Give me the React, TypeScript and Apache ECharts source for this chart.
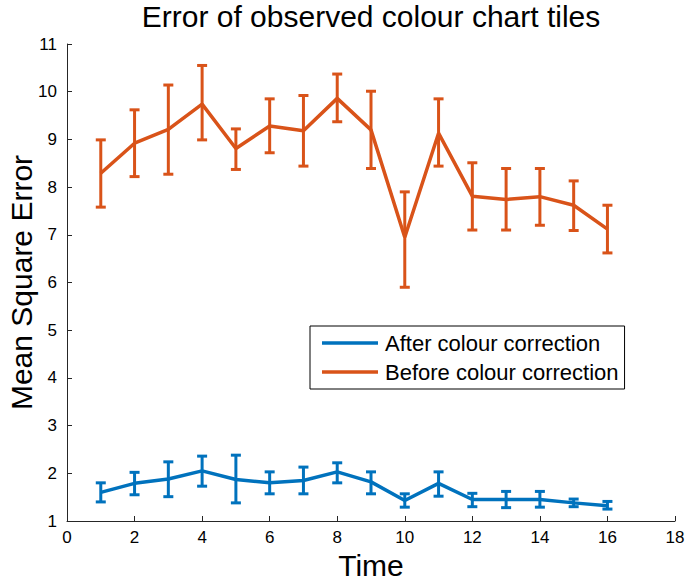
import React, { useEffect, useRef } from "react";
import * as echarts from "echarts";

const times = [1, 2, 3, 4, 5, 6, 7, 8, 9, 10, 11, 12, 13, 14, 15, 16];

const afterMean = [1.6, 1.79, 1.88, 2.05, 1.87, 1.8, 1.85, 2.03, 1.82, 1.43, 1.79, 1.45, 1.45, 1.45, 1.38, 1.32];
const afterHigh = [1.8, 2.02, 2.24, 2.36, 2.38, 2.03, 2.13, 2.22, 2.03, 1.57, 2.03, 1.58, 1.62, 1.62, 1.46, 1.41];
const afterLow = [1.4, 1.55, 1.51, 1.73, 1.38, 1.57, 1.57, 1.8, 1.57, 1.29, 1.52, 1.3, 1.28, 1.29, 1.3, 1.25];

const beforeMean = [8.29, 8.92, 9.21, 9.74, 8.81, 9.28, 9.18, 9.86, 9.2, 6.95, 9.13, 7.81, 7.74, 7.8, 7.62, 7.12];
const beforeHigh = [8.99, 9.62, 10.14, 10.55, 9.22, 9.85, 9.92, 10.37, 10.01, 7.9, 9.85, 8.51, 8.39, 8.39, 8.13, 7.62];
const beforeLow = [7.58, 8.22, 8.27, 8.99, 8.37, 8.72, 8.44, 9.37, 8.39, 5.9, 8.44, 7.1, 7.1, 7.2, 7.09, 6.62];

const xTicks = [0, 2, 4, 6, 8, 10, 12, 14, 16, 18];
const yTicks = [1, 2, 3, 4, 5, 6, 7, 8, 9, 10, 11];

const BLUE = "#0072BD";
const ORANGE = "#D95319";
const FONT = "Liberation Sans, Arial, sans-serif";

function errorSeries(name: string, color: string, low: number[], high: number[]) {
  return {
    type: "custom",
    name: name + " err",
    data: times.map((t, i) => [t, low[i], high[i]]),
    encode: { x: 0, y: [1, 2] },
    z: 3,
    renderItem: (params: any, api: any) => {
      const x = api.value(0);
      const lo = api.coord([x, api.value(1)]);
      const hi = api.coord([x, api.value(2)]);
      const half = 5;
      const style = { stroke: color, lineWidth: 3, fill: "none" };
      return {
        type: "group",
        children: [
          { type: "line", shape: { x1: lo[0], y1: lo[1], x2: hi[0], y2: hi[1] }, style },
          { type: "line", shape: { x1: hi[0] - half, y1: hi[1], x2: hi[0] + half, y2: hi[1] }, style },
          { type: "line", shape: { x1: lo[0] - half, y1: lo[1], x2: lo[0] + half, y2: lo[1] }, style },
        ],
      };
    },
  };
}

export default function App() {
  const ref = useRef<HTMLDivElement>(null);
  useEffect(() => {
    if (!ref.current) return;
    const chart = echarts.init(ref.current, null, { renderer: "svg" });
    chart.setOption({
      animation: false,
      backgroundColor: "#ffffff",
      title: {
        text: "Error of observed colour chart tiles",
        left: 371,
        top: 1,
        padding: 0,
        textAlign: "center",
        textStyle: { fontFamily: FONT, fontSize: 30, fontWeight: "normal", color: "#000" },
      },
      legend: {
        data: ["After colour correction", "Before colour correction"],
        orient: "vertical",
        left: 310,
        top: 326,
        icon: "rect",
        itemWidth: 56,
        itemHeight: 3.5,
        itemGap: 7,
        padding: [6, 6, 6, 12],
        borderColor: "#000",
        borderWidth: 1,
        backgroundColor: "#fff",
        textStyle: { fontFamily: FONT, fontSize: 22, color: "#000", padding: [0, 0, 0, 2] },
      },
      grid: { left: 67, right: 10, top: 44, bottom: 60, containLabel: false, outerBoundsMode: "none" },
      xAxis: {
        type: "value",
        min: 0,
        max: 18,
        interval: 2,
        name: "Time",
        nameLocation: "middle",
        nameGap: 23,
        nameTextStyle: { fontFamily: FONT, fontSize: 30, color: "#000" },
        axisLine: { show: true, lineStyle: { color: "#262626", width: 1 } },
        axisTick: { show: true, inside: true, length: 5, lineStyle: { color: "#262626" } },
        axisLabel: { fontFamily: FONT, fontSize: 17, color: "#000", margin: 8 },
        splitLine: { show: false },
      },
      yAxis: {
        type: "value",
        min: 1,
        max: 11,
        interval: 1,
        name: "Mean Square Error",
        nameLocation: "middle",
        nameGap: 31,
        nameMoveOverlap: false,
        nameTextStyle: { fontFamily: FONT, fontSize: 30, color: "#000" },
        axisLine: { show: true, lineStyle: { color: "#262626", width: 1 } },
        axisTick: { show: true, inside: true, length: 5, lineStyle: { color: "#262626" } },
        axisLabel: { fontFamily: FONT, fontSize: 17, color: "#000", margin: 10 },
        splitLine: { show: false },
      },
      series: [
        {
          type: "line",
          name: "After colour correction",
          data: times.map((t, i) => [t, afterMean[i]]),
          symbol: "none",
          lineStyle: { color: BLUE, width: 3.5 },
          itemStyle: { color: BLUE },
          z: 4,
        },
        {
          type: "line",
          name: "Before colour correction",
          data: times.map((t, i) => [t, beforeMean[i]]),
          symbol: "none",
          lineStyle: { color: ORANGE, width: 3.5 },
          itemStyle: { color: ORANGE },
          z: 4,
        },
        errorSeries("After colour correction", BLUE, afterLow, afterHigh),
        errorSeries("Before colour correction", ORANGE, beforeLow, beforeHigh),
      ],
    });
    return () => chart.dispose();
  }, []);
  return (
    <div
      ref={ref}
      style={{ position: "fixed", left: 0, top: 0, width: 685, height: 581 }}
    />
  );
}
